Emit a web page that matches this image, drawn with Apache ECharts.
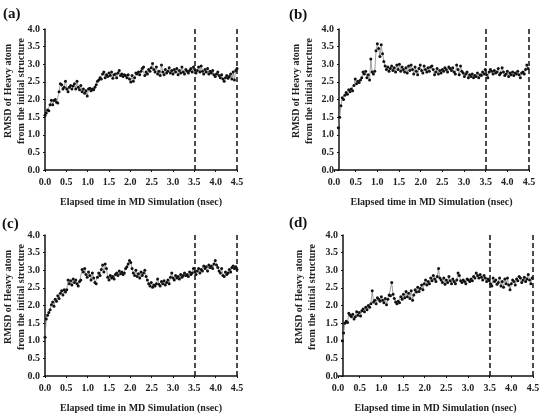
<!DOCTYPE html>
<html>
<head>
<meta charset="UTF-8">
<title>RMSD of heavy atoms</title>
<script src="https://cdn.jsdelivr.net/npm/echarts@6/dist/echarts.min.js"></script>
<style>
  html, body { margin: 0; padding: 0; background: #fff; }
  #chart { width: 544px; height: 419px; }
</style>
</head>
<body>
<div id="chart"></div>
<script>
// sampling step of the trajectories (nsec)
const step = 0.03;

// panel (a): starts at 0.00 ns
const rmsdA = [
  1.55, 1.62, 1.70, 1.68, 1.85, 1.98, 1.85, 1.97, 2.00, 1.92, 1.90, 2.22, 2.45, 2.42, 2.30, 2.35,
  2.52, 2.30, 2.22, 2.35, 2.40, 2.30, 2.38, 2.45, 2.30, 2.52, 2.35, 2.28, 2.40, 2.22, 2.30, 2.18,
  2.25, 2.10, 2.30, 2.32, 2.25, 2.30, 2.28, 2.35, 2.42, 2.52, 2.55, 2.62, 2.58, 2.72, 2.78, 2.62,
  2.70, 2.65, 2.75, 2.68, 2.78, 2.60, 2.70, 2.72, 2.62, 2.75, 2.82, 2.68, 2.72, 2.65, 2.70, 2.68,
  2.62, 2.70, 2.58, 2.50, 2.68, 2.52, 2.62, 2.75, 2.72, 2.78, 2.70, 2.80, 2.88, 2.92, 2.68, 2.78,
  2.72, 2.85, 2.80, 2.90, 3.02, 2.85, 2.78, 2.92, 2.72, 2.80, 2.68, 2.98, 2.78, 2.70, 2.85, 2.75,
  2.80, 2.90, 2.75, 2.82, 2.72, 2.85, 2.78, 2.88, 2.70, 2.82, 2.75, 2.92, 2.78, 2.72, 2.85, 2.80,
  2.75, 2.82, 2.88, 2.78, 2.92, 2.85, 2.75, 2.82, 2.92, 2.78, 2.95, 2.80, 2.72, 2.85, 2.78, 2.88,
  2.72, 2.80, 2.75, 2.82, 2.70, 2.65, 2.72, 2.78, 2.68, 2.62, 2.70, 2.58, 2.52, 2.62, 2.68, 2.60,
  2.65, 2.72, 2.58, 2.78, 2.55, 2.82, 2.88
];

// panel (b): starts at 0.10 ns
const rmsdB = [
  1.20, 1.50, 1.82, 2.05, 2.00, 2.12, 2.20, 2.15, 2.28, 2.22, 2.30, 2.25, 2.40, 2.58, 2.45, 2.52,
  2.48, 2.55, 2.62, 2.78, 2.72, 2.80, 2.62, 2.70, 2.55, 3.15, 2.78, 2.72, 2.80, 3.38, 3.58, 3.45,
  3.22, 3.55, 3.30, 3.08, 2.95, 2.85, 2.92, 2.80, 2.88, 2.95, 2.82, 2.90, 2.78, 2.98, 2.85, 3.00,
  2.80, 2.92, 2.85, 2.78, 2.90, 2.75, 2.95, 2.82, 2.98, 2.85, 2.72, 2.92, 2.80, 2.70, 2.88, 2.98,
  2.82, 2.75, 2.95, 2.85, 2.78, 2.90, 2.80, 2.92, 2.95, 2.85, 2.70, 2.78, 2.88, 2.72, 2.82, 2.75,
  2.85, 2.80, 2.90, 2.85, 2.78, 2.92, 2.88, 2.82, 2.90, 2.78, 2.72, 2.98, 2.85, 2.70, 2.95, 2.80,
  2.75, 2.65, 2.72, 2.78, 2.62, 2.70, 2.65, 2.72, 2.62, 2.68, 2.65, 2.75, 2.62, 2.70, 2.68, 2.78,
  2.72, 2.85, 2.70, 2.62, 2.78, 2.85, 2.80, 2.72, 2.82, 2.75, 2.78, 2.88, 2.70, 2.75, 2.90, 2.78,
  2.68, 2.72, 2.80, 2.65, 2.75, 2.70, 2.78, 2.68, 2.75, 2.72, 2.80, 2.70, 2.62, 2.75, 2.78, 2.72,
  2.85, 2.98, 2.88
];

// panel (c): starts at 0.00 ns
const rmsdC = [
  1.10, 1.62, 1.72, 1.80, 1.88, 2.02, 2.10, 1.98, 2.18, 2.12, 2.28, 2.20, 2.35, 2.42, 2.30, 2.45,
  2.38, 2.45, 2.72, 2.62, 2.70, 2.58, 2.75, 2.65, 2.72, 2.62, 2.55, 2.68, 2.72, 3.02, 2.95, 3.05,
  2.88, 2.80, 2.95, 2.85, 2.72, 2.92, 2.78, 2.65, 2.62, 2.80, 2.92, 2.85, 3.02, 3.15, 2.95, 3.18,
  3.05, 2.80, 2.72, 2.85, 2.78, 2.82, 2.75, 2.88, 2.92, 2.85, 2.98, 2.90, 2.95, 2.88, 2.92, 3.05,
  3.10, 3.18, 3.28, 3.22, 3.05, 2.92, 2.85, 3.00, 2.82, 2.90, 2.78, 2.95, 2.85, 2.92, 3.00, 2.82,
  2.72, 2.62, 2.55, 2.65, 2.52, 2.58, 2.55, 2.62, 2.75, 2.60, 2.55, 2.68, 2.62, 2.70, 2.58, 2.65,
  2.72, 2.62, 2.80, 2.92, 2.78, 2.72, 2.85, 2.78, 2.82, 2.75, 2.88, 2.80, 2.85, 2.92, 2.85, 2.88,
  2.82, 2.95, 2.88, 2.92, 3.05, 2.95, 2.88, 2.98, 3.05, 2.92, 3.02, 2.98, 3.12, 3.05, 3.10, 2.98,
  3.15, 3.08, 3.12, 3.05, 3.18, 3.28, 3.15, 3.08, 2.98, 2.92, 3.05, 2.85, 2.82, 2.95, 2.88, 2.92,
  3.02, 2.95, 3.08, 3.12, 3.05, 3.10, 3.02
];

// panel (d): starts at 0.10 ns
const rmsdD = [
  1.00, 1.22, 1.50, 1.55, 1.52, 1.78, 1.72, 1.68, 1.75, 1.62, 1.68, 1.82, 1.72, 1.80, 1.70, 1.85,
  1.90, 1.82, 1.95, 1.88, 2.00, 1.95, 2.05, 2.42, 2.10, 2.15, 2.05, 2.22, 2.18, 2.12, 2.25, 2.15,
  2.08, 2.20, 2.02, 2.18, 2.30, 2.28, 2.65, 2.32, 2.20, 2.10, 2.05, 2.12, 2.08, 2.25, 2.18, 2.32,
  2.22, 2.40, 2.25, 2.35, 2.20, 2.42, 2.15, 2.30, 2.45, 2.38, 2.52, 2.40, 2.48, 2.58, 2.45, 2.62,
  2.72, 2.58, 2.68, 2.62, 2.78, 2.70, 2.85, 2.75, 2.68, 2.82, 3.05, 2.78, 2.72, 2.65, 2.78, 2.60,
  2.72, 2.65, 2.82, 2.70, 2.62, 2.75, 2.68, 2.62, 2.72, 2.92, 2.85, 2.70, 2.65, 2.72, 2.68, 2.62,
  2.75, 2.72, 2.68, 2.75, 2.70, 2.82, 2.78, 2.92, 2.85, 2.78, 2.88, 2.80, 2.72, 2.85, 2.78, 2.68,
  2.75, 2.70, 2.62, 2.55, 2.78, 2.68, 2.72, 2.60, 2.65, 2.78, 2.55, 2.68, 2.52, 2.75, 2.62, 2.78,
  2.58, 2.45, 2.62, 2.72, 2.68, 2.58, 2.75, 2.70, 2.82, 2.78, 2.65, 2.72, 2.80, 2.68, 2.75, 2.88,
  2.72, 2.62, 2.78
];

const panelLabels = ['(a)', '(b)', '(c)', '(d)'];
const startTimes = [0, 0.1, 0, 0.1];
const cutTimes = [3.5, 4.5];
const xTitle = 'Elapsed time in MD Simulation (nsec)';
const yTitle = 'RMSD of Heavy atom\nfrom the initial structure';

const series = [rmsdA, rmsdB, rmsdC, rmsdD];

// layout of the four panels
const grids = [
  { left: 45, top: 29, width: 192, height: 141 },
  { left: 334, top: 29, width: 195, height: 141 },
  { left: 45, top: 235, width: 192, height: 141 },
  { left: 338, top: 235, width: 195, height: 141 }
];
const yOffsets = [0, -5, 0, -5];
const yTitlePos = [[15, 91], [303, 91], [15, 297], [306, 297]];
const labelPos = [[3, 15], [289, 16], [2, 225], [289, 224]];

const font = '"Liberation Serif", "Times New Roman", serif';
const tickFmt = v => v.toFixed(1);

const chart = echarts.init(document.getElementById('chart'), null, { renderer: 'canvas' });

const option = {
  animation: false,
  backgroundColor: '#fff',
  grid: grids.map(g => Object.assign({ containLabel: false }, g)),
  xAxis: grids.map((g, i) => ({
    type: 'value',
    gridIndex: i,
    min: 0,
    max: 4.5,
    interval: 0.5,
    name: xTitle,
    nameLocation: 'middle',
    nameGap: 27,
    nameTextStyle: { fontFamily: font, fontWeight: 'bold', fontSize: 10, color: '#222' },
    axisLine: { onZero: false, lineStyle: { color: '#111', width: 1.5 } },
    axisTick: { show: true, length: 2, lineStyle: { color: '#111' } },
    axisLabel: { formatter: tickFmt, fontFamily: font, fontWeight: 'bold', fontSize: 10, color: '#222', margin: 7, showMinLabel: true, showMaxLabel: true },
    splitLine: { show: false }
  })),
  yAxis: grids.map((g, i) => ({
    type: 'value',
    gridIndex: i,
    min: 0,
    max: 4,
    interval: 0.5,
    offset: yOffsets[i],
    axisLine: { show: true, onZero: false, lineStyle: { color: '#111', width: 1.5 } },
    axisTick: { show: true, length: 2, lineStyle: { color: '#111' } },
    axisLabel: { formatter: tickFmt, fontFamily: font, fontWeight: 'bold', fontSize: 10, color: '#222', margin: 5 },
    splitLine: { show: false }
  })),
  graphic: [
    ...panelLabels.map((t, i) => ({
      type: 'text',
      left: labelPos[i][0],
      top: labelPos[i][1] - 8,
      style: { text: t, font: 'bold 15px ' + font, fill: '#111' }
    })),
    ...yTitlePos.map(p => ({
      type: 'text',
      x: p[0],
      y: p[1],
      rotation: Math.PI / 2,
      style: {
        text: yTitle,
        font: 'bold 10px ' + font,
        fill: '#222',
        align: 'center',
        verticalAlign: 'middle',
        lineHeight: 13
      }
    }))
  ],
  series: series.map((vals, i) => ({
    type: 'line',
    xAxisIndex: i,
    yAxisIndex: i,
    data: vals.map((v, k) => [startTimes[i] + k * step, v]),
    showSymbol: true,
    symbol: 'circle',
    symbolSize: 3,
    itemStyle: { color: '#111' },
    lineStyle: { color: '#888', width: 0.8 },
    markLine: {
      silent: true,
      symbol: 'none',
      label: { show: false },
      lineStyle: { color: '#111', type: [5, 3], width: 1.5 },
      data: cutTimes.map(t => ({ xAxis: t }))
    }
  }))
};

chart.setOption(option);
</script>
</body>
</html>
